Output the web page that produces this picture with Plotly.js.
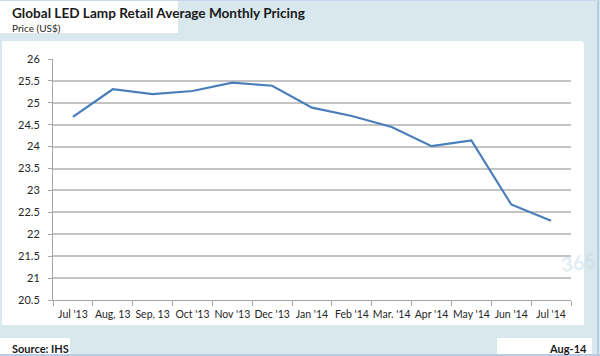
<!DOCTYPE html>
<html>
<head>
<meta charset="utf-8">
<script src="https://cdn.plot.ly/plotly-3.0.1.min.js"></script>
<style>
  html, body { margin: 0; padding: 0; }
  body { width: 600px; height: 356px; position: relative; overflow: hidden; background: #d9e8ec; }
  .blk { position: absolute; background: #ffffff; }
  #chart { position: absolute; left: 0; top: 0; width: 600px; height: 356px; }
</style>
</head>
<body>
<div class="blk" style="left:0;top:0;width:178px;height:33px;"></div>
<div class="blk" style="left:2px;top:41px;width:582px;height:284px;border-radius:0 4px 0 0;"></div>
<div class="blk" style="left:0;top:338px;width:70px;height:16px;"></div>
<div class="blk" style="left:497px;top:338px;width:95px;height:16px;"></div>
<div style="position:absolute;left:597px;top:0;width:2px;height:356px;background:#b7cde6;"></div>
<div style="position:absolute;left:0;top:354px;width:600px;height:2px;background:#b7cde6;"></div>
<div style="position:absolute;left:0;top:0;width:600px;height:1px;background:#c6d8ea;"></div>
<div id="chart"></div>
<script>
const months = ["Jul '13", "Aug, 13", "Sep, 13", "Oct '13", "Nov '13", "Dec '13", "Jan '14", "Feb '14", "Mar. '14", "Apr '14", "May '14", "Jun '14", "Jul '14"];
const prices = [24.68, 25.31, 25.20, 25.27, 25.46, 25.39, 24.89, 24.70, 24.45, 24.01, 24.14, 22.68, 22.31];
const yTicks = [20.5, 21, 21.5, 22, 22.5, 23, 23.5, 24, 24.5, 25, 25.5, 26];

const FONT = "Lato, 'Open Sans', sans-serif";

const trace = {
  x: months,
  y: prices,
  type: 'scatter',
  mode: 'lines',
  line: { color: '#4a7ebb', width: 2.2 },
  hoverinfo: 'x+y'
};

const layout = {
  width: 600,
  height: 356,
  margin: { l: 53, r: 29, t: 59, b: 56 },
  paper_bgcolor: 'rgba(0,0,0,0)',
  plot_bgcolor: 'rgba(0,0,0,0)',
  showlegend: false,
  font: { family: FONT, size: 11, color: '#262626' },
  xaxis: {
    type: 'category',
    range: [-0.5, 12.5],
    tickson: 'boundaries',
    ticks: 'outside',
    ticklen: 5,
    tickcolor: '#a6a6a6',
    tickangle: 0,
    showline: true,
    linecolor: '#a6a6a6',
    linewidth: 1,
    showgrid: false,
    ticklabelstandoff: 4,
    tickfont: { family: FONT, size: 10.5, color: '#262626' },
    fixedrange: true
  },
  yaxis: {
    range: [20.5, 26],
    tickvals: yTicks,
    ticktext: yTicks.map(String),
    ticks: 'outside',
    ticklen: 4,
    tickcolor: '#a6a6a6',
    showline: true,
    linecolor: '#a6a6a6',
    linewidth: 1,
    showgrid: true,
    gridcolor: '#c4c4c4',
    gridwidth: 2,
    zeroline: false,
    tickfont: { family: FONT, size: 11, color: '#262626' },
    ticklabelstandoff: 6,
    fixedrange: true
  },
  annotations: [
    { xref: 'paper', yref: 'paper', x: -43/518, y: (300-3)/241, xanchor: 'left', yanchor: 'top',
      text: '<b>Global LED Lamp Retail Average Monthly Pricing</b>', showarrow: false,
      font: { family: FONT, size: 13.6, color: '#1a1a1a' } },
    { xref: 'paper', yref: 'paper', x: -43/518, y: (300-20)/241, xanchor: 'left', yanchor: 'top',
      text: 'Price (US$)', showarrow: false,
      font: { family: FONT, size: 10, color: '#262626' } },
    { xref: 'paper', yref: 'paper', x: -43/518, y: (300-340)/241, xanchor: 'left', yanchor: 'top',
      text: '<b>Source: IHS</b>', showarrow: false,
      font: { family: FONT, size: 11, color: '#1a1a1a' } },
    { xref: 'paper', yref: 'paper', x: (589-53)/518, y: (300-340)/241, xanchor: 'right', yanchor: 'top',
      text: '<b>Aug-14</b>', showarrow: false,
      font: { family: FONT, size: 11, color: '#1a1a1a' } },
    { xref: 'paper', yref: 'paper', x: (578-53)/518, y: (300-245)/241, xanchor: 'center', yanchor: 'top',
      text: '<b>365</b>', showarrow: false, textangle: -8,
      font: { family: FONT, size: 20, color: 'rgba(190,212,228,0.45)' } }
  ]
};

Plotly.newPlot('chart', [trace], layout, { displayModeBar: false, staticPlot: true });
</script>
</body>
</html>
